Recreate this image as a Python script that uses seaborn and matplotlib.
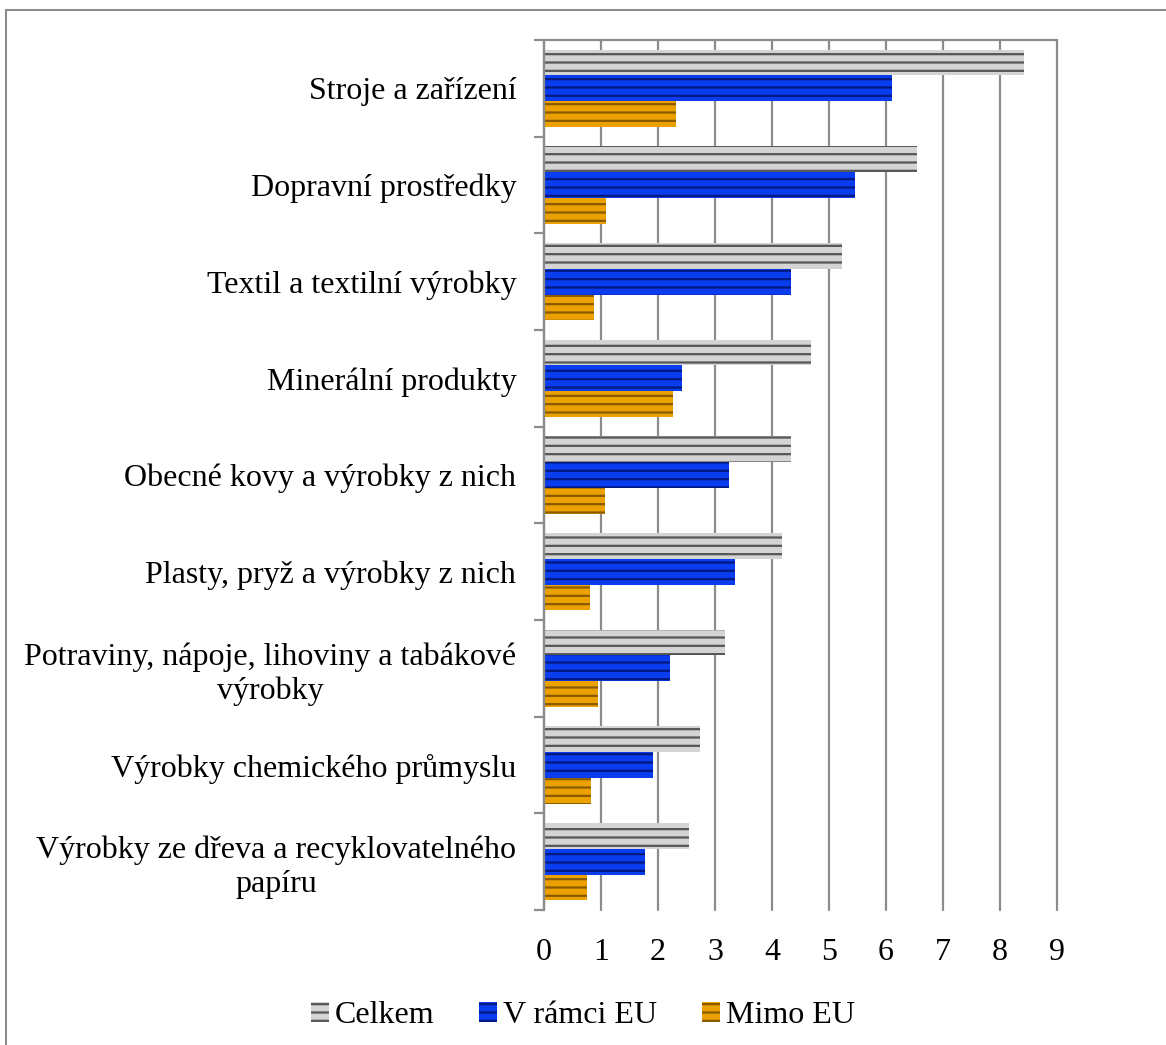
import numpy as np
import pandas as pd
import seaborn as sns
import matplotlib.pyplot as plt
from matplotlib.patches import Rectangle, Patch
from matplotlib.ticker import FixedLocator

categories = ['Stroje a zařízení', 'Dopravní prostředky', 'Textil a textilní výrobky',
              'Minerální produkty', 'Obecné kovy a výrobky z nich',
              'Plasty, pryž a výrobky z nich',
              'Potraviny, nápoje, lihoviny a tabákové\nvýrobky',
              'Výrobky chemického průmyslu',
              'Výrobky ze dřeva a recyklovatelného\npapíru']
series = ['Celkem', 'V rámci EU', 'Mimo EU']
celkem = [8.42, 6.55, 5.22, 4.69, 4.33, 4.17, 3.17, 2.73, 2.54]
v_ramci_eu = [6.10, 5.45, 4.33, 2.42, 3.24, 3.35, 2.21, 1.91, 1.77]
mimo_eu = [2.31, 1.09, 0.88, 2.26, 1.07, 0.81, 0.95, 0.82, 0.75]
xticks = [0, 1, 2, 3, 4, 5, 6, 7, 8, 9]

face = {'Celkem': '#d4d4d4', 'V rámci EU': '#0a3cf0', 'Mimo EU': '#eba200'}
stripe = {'Celkem': '#555555', 'V rámci EU': '#001a80', 'Mimo EU': '#8a5a00'}

df = pd.DataFrame({
    'kat': categories * 3,
    'val': celkem + v_ramci_eu + mimo_eu,
    'serie': [s for s in series for _ in categories],
})

sns.set_style('white')
plt.rcParams['font.family'] = ['Liberation Serif', 'DejaVu Serif']
plt.rcParams['text.color'] = 'black'
plt.rcParams['xtick.color'] = 'black'
plt.rcParams['ytick.color'] = 'black'
plt.rcParams['hatch.linewidth'] = 1.6
FS = 23

fig = plt.figure(figsize=(11.66, 10.45), dpi=100)
ax = fig.add_axes([0.4666, 0.1292, 0.4399, 0.8325])

sns.barplot(data=df, y='kat', x='val', hue='serie', order=categories, hue_order=series,
            orient='h', width=0.8, palette=face, legend=False, ax=ax)

n = len(categories)
for i, s in enumerate(series):
    for p in ax.patches[i * n:(i + 1) * n]:
        p.set_facecolor(face[s])
        p.set_edgecolor(stripe[s])
        p.set_linewidth(0)
        p.set_hatch('--')

ax.set_xlim(0, 9)
ax.set_ylim(n - 0.5, -0.5)
ax.set_xticks(xticks)
ax.set_xlabel('')
ax.set_ylabel('')
ax.grid(axis='x', color='#8c8c8c', linewidth=1.6)
ax.set_axisbelow(True)
for line in ax.get_xgridlines():
    line.set_clip_on(False)
for side in ['right', 'bottom']:
    ax.spines[side].set_visible(False)
for side in ['left', 'top']:
    ax.spines[side].set_color('#8c8c8c')
    ax.spines[side].set_linewidth(1.6)

ax.yaxis.set_minor_locator(FixedLocator(np.arange(-0.5, n, 1)))
ax.tick_params(axis='y', which='minor', length=7, width=1.6, color='#8c8c8c', left=True)
ax.tick_params(axis='y', which='major', length=0, pad=20, labelsize=FS, labelcolor='black')
ax.tick_params(axis='x', length=0, pad=20, labelsize=FS, labelcolor='black')
for lab in ax.get_yticklabels():
    lab.set_multialignment('center')
    lab.set_linespacing(1.2)

handles = [Patch(facecolor=face[s], edgecolor=stripe[s], hatch='--', linewidth=0) for s in series]
fig.legend(handles, series, loc='center', bbox_to_anchor=(0.5, 0.028), ncol=3, frameon=False,
           fontsize=FS, handlelength=0.55, handleheight=0.55, handletextpad=0.2, columnspacing=1.4,
           labelcolor='black')

fig.patches.append(Rectangle((6 / 1166, -0.01), 1.02, 1 - 10 / 1045 + 0.01, transform=fig.transFigure,
                             fill=False, edgecolor='#8c8c8c', linewidth=1.5))

fig.savefig('out.png', dpi=100)
